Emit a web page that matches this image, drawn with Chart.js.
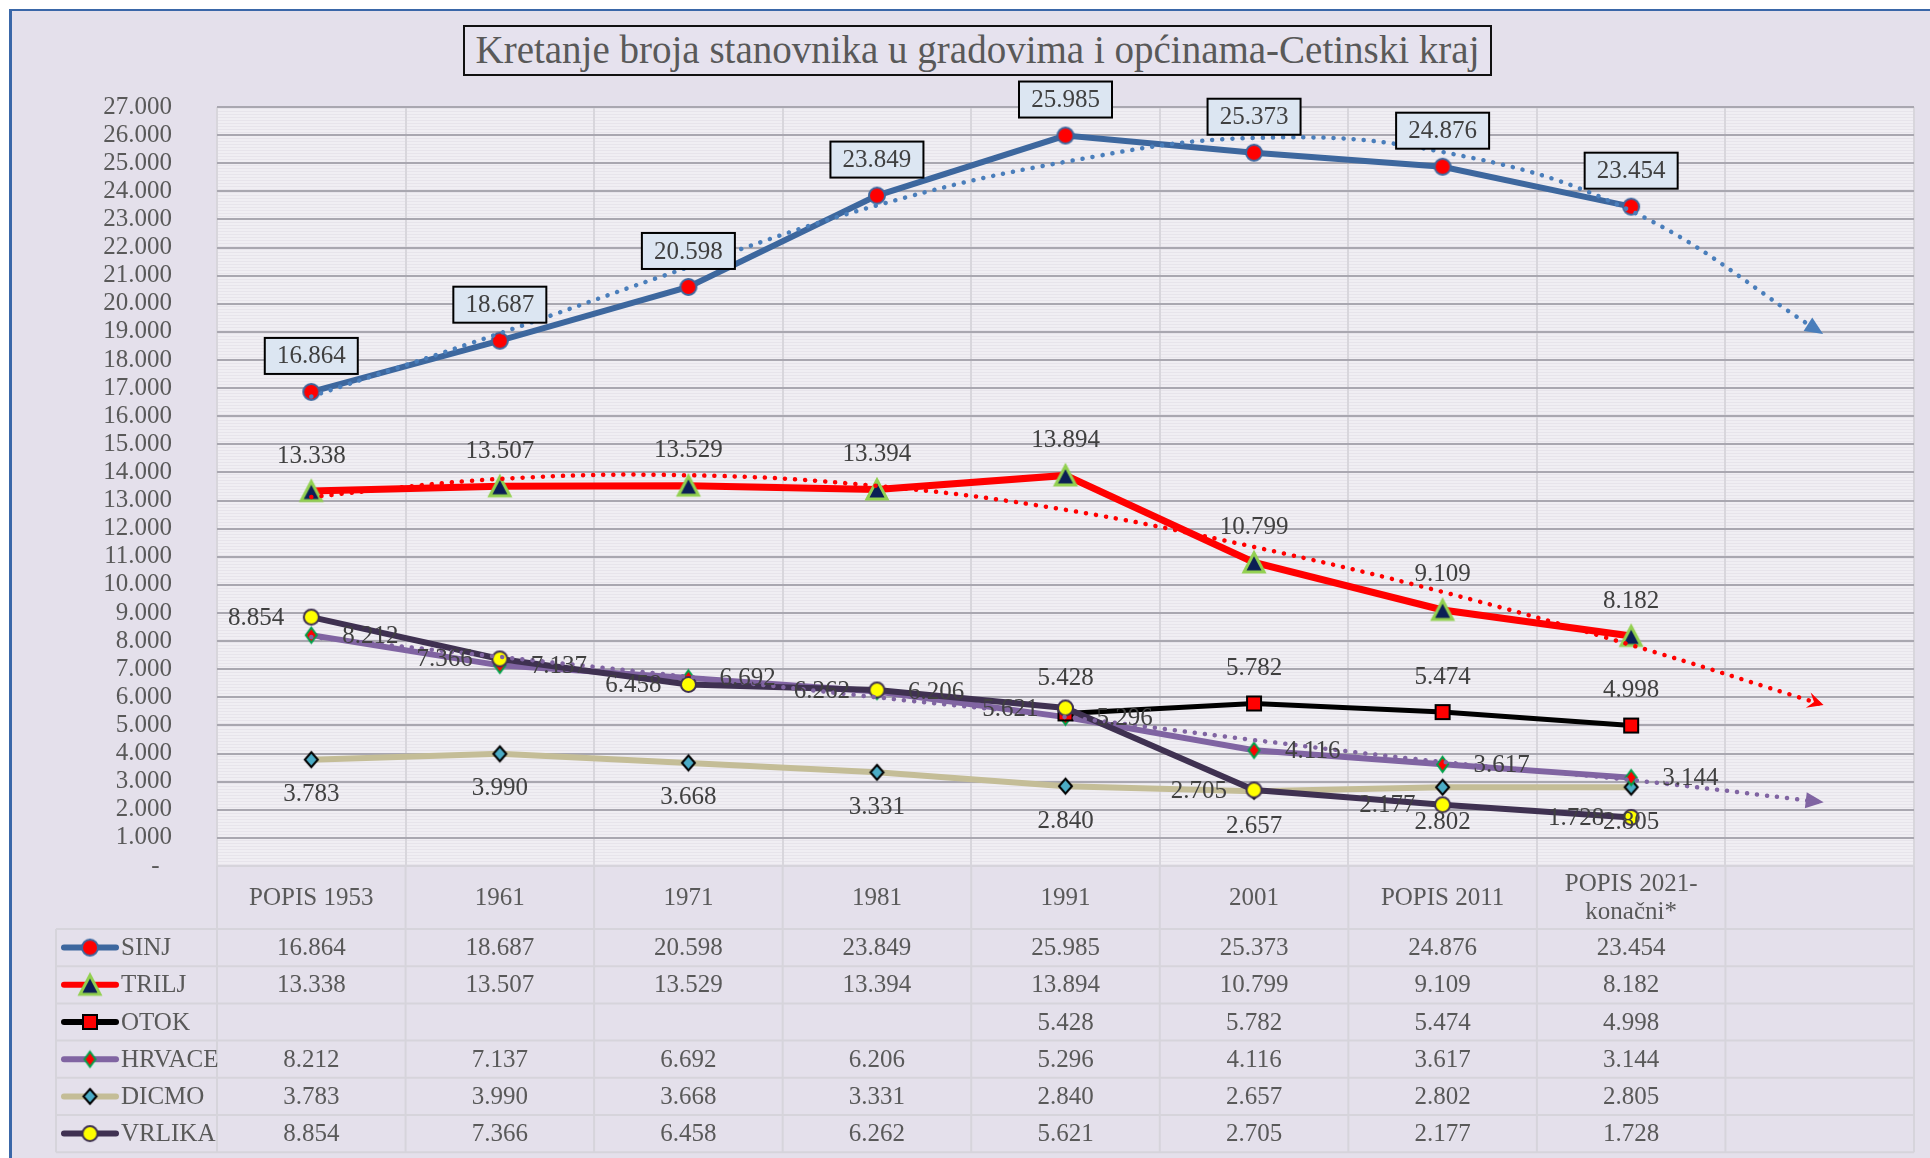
<!DOCTYPE html>
<html>
<head>
<meta charset="utf-8">
<script src="https://cdn.jsdelivr.net/npm/chart.js@4.4.0/dist/chart.umd.min.js"></script>
<style>
  html, body { margin: 0; padding: 0; background: #fff; overflow: hidden; }
  #frame { position: absolute; left: 9px; top: 9px; width: 1940px; height: 1170px; background: #E4E0EB;
           border-left: 3px solid #3A67A8; border-top: 2px solid #3A67A8; }
  #c { position: absolute; left: 0; top: 0; }
  #title { position: absolute; left: 463px; top: 25px; width: 1029px; height: 51px; box-sizing: border-box;
           border: 2px solid #111; background: #E6E2EE; color: #595959; text-align: center;
           font: 39px 'Liberation Serif', serif; line-height: 46px; white-space: nowrap; }
</style>
</head>
<body>
<div id="frame"></div>
<canvas id="c" width="1930" height="1158"></canvas>
<div id="title">Kretanje broja stanovnika u gradovima i općinama-Cetinski kraj</div>
<script>
// --- podaci ---
const years = ['POPIS 1953', '1961', '1971', '1981', '1991', '2001', 'POPIS 2011', ['POPIS 2021-', 'konačni*'], ''];
const sinj   = [16864, 18687, 20598, 23849, 25985, 25373, 24876, 23454, null];
const trilj  = [13338, 13507, 13529, 13394, 13894, 10799, 9109, 8182, null];
const otok   = [null, null, null, null, 5428, 5782, 5474, 4998, null];
const hrvace = [8212, 7137, 6692, 6206, 5296, 4116, 3617, 3144, null];
const dicmo  = [3783, 3990, 3668, 3331, 2840, 2657, 2802, 2805, null];
const vrlika = [8854, 7366, 6458, 6262, 5621, 2705, 2177, 1728, null];
// trendovi (očitano sa slike)
const sinjTrend   = [16700, 18950, 21300, 23500, 25050, 25900, 25400, 23300, 19000];
const triljTrend  = [13130, 13770, 13900, 13520, 12670, 11350, 9750, 7860, 5770];
const hrvaceTrend = [8150, 7440, 6730, 6000, 5300, 4480, 3700, 3060, 2280];
const yTicks = { min: 0, max: 27000, step: 1000 };

const FONT = "'Liberation Serif', serif";
const fmt = v => String(v).replace(/\B(?=(\d{3})+(?!\d))/g, '.');

// --- markeri ---
function marker(kind, w, h, fill, stroke, lw) {
    const c = document.createElement('canvas');
    c.width = Math.ceil(w + lw * 2 + 2);
    c.height = Math.ceil(h + lw * 2 + 2);
    const g = c.getContext('2d');
    const mx = c.width / 2, my = c.height / 2;
    g.fillStyle = fill;
    g.strokeStyle = stroke;
    g.lineWidth = lw;
    g.lineJoin = 'miter';
    g.beginPath();
    if (kind === 'circle') g.ellipse(mx, my, w / 2, h / 2, 0, 0, Math.PI * 2);
    else if (kind === 'square') g.rect(mx - w / 2, my - h / 2, w, h);
    else if (kind === 'diamond') {
        g.moveTo(mx, my - h / 2); g.lineTo(mx + w / 2, my); g.lineTo(mx, my + h / 2); g.lineTo(mx - w / 2, my); g.closePath();
    } else if (kind === 'triangle') {
        g.moveTo(mx, my - h / 2); g.lineTo(mx + w / 2, my + h / 2); g.lineTo(mx - w / 2, my + h / 2); g.closePath();
    }
    g.fill();
    g.stroke();
    return c;
}

const mSinj   = marker('circle', 16, 16, '#FF0000', '#3D679E', 2);
const mTrilj  = marker('triangle', 20, 19, '#0B1F55', '#92D050', 3);
const mOtok   = marker('square', 14, 14, '#FF0000', '#000000', 2);
const mHrvace = marker('diamond', 11, 15, '#FF0000', '#00A04A', 2);
const mDicmo  = marker('diamond', 13, 15, '#4BACC6', '#000000', 2);
const mVrlika = marker('circle', 15, 15, '#FFFF00', '#3F3151', 2);

// --- pozadina plot područja ---
const stripe = document.createElement('canvas');
stripe.width = 4; stripe.height = 3;
(() => {
    const g = stripe.getContext('2d');
    g.fillStyle = '#F0EEF3'; g.fillRect(0, 0, 4, 3);
    g.fillStyle = '#E7E4EB'; g.fillRect(0, 0, 4, 1);
})();

const bgPlugin = {
    id: 'bg',
    beforeDraw(chart) {
        const { ctx, chartArea: a } = chart;
        ctx.save();
        ctx.fillStyle = ctx.createPattern(stripe, 'repeat');
        ctx.fillRect(a.left, a.top, a.right - a.left, a.bottom - a.top);
        ctx.restore();
    }
};

// --- strelice na trendovima ---
function arrowHead(ctx, pt, color, open) {
    const fx = pt.cp1x !== undefined ? pt.cp1x : pt.x - 10;
    const fy = pt.cp1y !== undefined ? pt.cp1y : pt.y;
    const ang = Math.atan2(pt.y - fy, pt.x - fx);
    ctx.save();
    ctx.translate(pt.x, pt.y);
    ctx.rotate(ang);
    ctx.fillStyle = color;
    ctx.beginPath();
    if (open) {
        ctx.moveTo(4, 0); ctx.lineTo(-12, -8); ctx.lineTo(-6, 0); ctx.lineTo(-12, 8);
    } else {
        ctx.moveTo(4, 0); ctx.lineTo(-14, -8); ctx.lineTo(-14, 8);
    }
    ctx.closePath();
    ctx.fill();
    ctx.restore();
}

// --- oznake vrijednosti ---
const labelPlugin = {
    id: 'vals',
    afterDatasetsDraw(chart) {
        const ctx = chart.ctx;
        ctx.save();
        chart.data.datasets.forEach((ds, i) => {
            const meta = chart.getDatasetMeta(i);
            if (ds.arrow) {
                const last = meta.data[meta.data.length - 1];
                arrowHead(ctx, last, ds.borderColor, ds.arrow === 'open');
            }
            if (!ds.pos) return;
            ctx.font = '25px ' + FONT;
            ctx.textBaseline = 'middle';
            meta.data.forEach((pt, j) => {
                const v = ds.data[j];
                if (v == null) return;
                const t = fmt(v);
                if (ds.pos === 'box') {
                    const w = 93, h = 36, y = pt.y - 36;
                    ctx.fillStyle = '#DCE6F2';
                    ctx.fillRect(pt.x - w / 2, y - h / 2, w, h);
                    ctx.strokeStyle = '#000';
                    ctx.lineWidth = 2;
                    ctx.strokeRect(pt.x - w / 2, y - h / 2, w, h);
                    ctx.fillStyle = '#404040';
                    ctx.textAlign = 'center';
                    ctx.fillText(t, pt.x, y + 1);
                    return;
                }
                ctx.fillStyle = '#404040';
                if (ds.pos === 'above') { ctx.textAlign = 'center'; ctx.fillText(t, pt.x, pt.y - 35); }
                else if (ds.pos === 'below') { ctx.textAlign = 'center'; ctx.fillText(t, pt.x, pt.y + 35); }
                else if (ds.pos === 'right') { ctx.textAlign = 'left'; ctx.fillText(t, pt.x + 31, pt.y + 1); }
                else if (ds.pos === 'left') { ctx.textAlign = 'right'; ctx.fillText(t, pt.x - 27, pt.y + 1); }
            });
        });
        ctx.restore();
    }
};

// --- tablica podataka ispod grafikona ---
const tablePlugin = {
    id: 'table',
    afterDraw(chart) {
        const { ctx, chartArea: a, scales: { x } } = chart;
        const colW = (a.right - a.left) / years.length;
        const headTop = a.bottom, headH = 63, rowH = 37.2;
        const rows = chart.data.datasets.filter(d => d.tableRow !== undefined).sort((p, q) => p.tableRow - q.tableRow);
        const tableLeft = 56;
        const rowsTop = headTop + headH;
        const tableBottom = rowsTop + rows.length * rowH;
        ctx.save();
        ctx.strokeStyle = '#D6D4DB';
        ctx.lineWidth = 2;
        ctx.beginPath();
        for (let k = 0; k <= years.length; k++) {
            const gx = a.left + k * colW;
            ctx.moveTo(gx, headTop); ctx.lineTo(gx, tableBottom);
        }
        ctx.moveTo(tableLeft, rowsTop); ctx.lineTo(tableLeft, tableBottom);
        ctx.moveTo(a.left, headTop); ctx.lineTo(a.right, headTop);
        for (let r = 0; r <= rows.length; r++) {
            const gy = rowsTop + r * rowH;
            ctx.moveTo(tableLeft, gy); ctx.lineTo(a.right, gy);
        }
        ctx.stroke();

        ctx.font = '25px ' + FONT;
        ctx.fillStyle = '#595959';
        ctx.textBaseline = 'middle';
        ctx.textAlign = 'center';
        years.forEach((lab, k) => {
            const cx = x.getPixelForValue(k);
            if (Array.isArray(lab)) {
                ctx.fillText(lab[0], cx, headTop + headH / 2 - 13);
                ctx.fillText(lab[1], cx, headTop + headH / 2 + 15);
            } else {
                ctx.fillText(lab, cx, headTop + headH / 2 + 1);
            }
        });

        rows.forEach((ds, r) => {
            const cy = rowsTop + r * rowH + rowH / 2;
            // legenda
            ctx.strokeStyle = ds.borderColor;
            ctx.lineWidth = 6;
            ctx.lineCap = 'round';
            ctx.beginPath();
            ctx.moveTo(64, cy); ctx.lineTo(116, cy);
            ctx.stroke();
            const m = ds.pointStyle;
            ctx.drawImage(m, 90 - m.width / 2, cy - m.height / 2);
            ctx.fillStyle = '#595959';
            ctx.textAlign = 'left';
            ctx.fillText(ds.label, 121, cy + 1);
            ctx.textAlign = 'center';
            ds.data.forEach((v, k) => {
                if (v == null) return;
                ctx.fillText(fmt(v), x.getPixelForValue(k), cy + 1);
            });
        });
        ctx.restore();
    }
};

function series(label, data, color, width, pm, pos, row, order) {
    return {
        label, data, borderColor: color, backgroundColor: color, borderWidth: width,
        pointStyle: pm, pointRadius: 9, pointHoverRadius: 9, tension: 0,
        pos, tableRow: row, order, spanGaps: false
    };
}

function trend(label, data, color, arrow, order) {
    return {
        label, data, borderColor: color, backgroundColor: color, borderWidth: 4.5,
        borderDash: [0.1, 10], borderCapStyle: 'round', pointRadius: 0, pointHoverRadius: 0,
        tension: 0.4, arrow, order
    };
}

new Chart(document.getElementById('c'), {
    type: 'line',
    data: {
        labels: years,
        datasets: [
            trend('SINJ trend', sinjTrend, '#4A7EBB', 'solid', 0),
            trend('TRILJ trend', triljTrend, '#FF0000', 'open', 1),
            trend('HRVACE trend', hrvaceTrend, '#8064A2', 'solid', 2),
            series('SINJ', sinj, '#3D679E', 6, mSinj, 'box', 0, 3),
            series('TRILJ', trilj, '#FF0000', 7, mTrilj, 'above', 1, 4),
            series('VRLIKA', vrlika, '#3F3151', 6, mVrlika, 'left', 5, 5),
            series('OTOK', otok, '#000000', 5, mOtok, 'above', 2, 6),
            series('HRVACE', hrvace, '#8064A2', 6, mHrvace, 'right', 3, 7),
            series('DICMO', dicmo, '#C4BD97', 6, mDicmo, 'below', 4, 8)
        ]
    },
    options: {
        responsive: false,
        animation: false,
        layout: { padding: { left: 0, top: 107, right: 16, bottom: 292 } },
        plugins: { legend: { display: false }, tooltip: { enabled: false } },
        scales: {
            x: {
                offset: true,
                grid: { offset: true, color: '#D8D6DC', lineWidth: 2, drawTicks: false },
                border: { display: false },
                ticks: { display: false },
                afterFit: s => { s.height = 0; }
            },
            y: {
                min: yTicks.min,
                max: yTicks.max,
                ticks: {
                    stepSize: yTicks.step,
                    autoSkip: false,
                    padding: 45,
                    color: '#595959',
                    font: { family: FONT, size: 25 },
                    callback: v => v === 0 ? '-  ' : fmt(v)
                },
                grid: { color: '#A9A7B0', lineWidth: 2, drawTicks: false },
                border: { display: false },
                afterFit: s => { s.width = 217; }
            }
        }
    },
    plugins: [bgPlugin, labelPlugin, tablePlugin]
});
</script>
</body>
</html>
